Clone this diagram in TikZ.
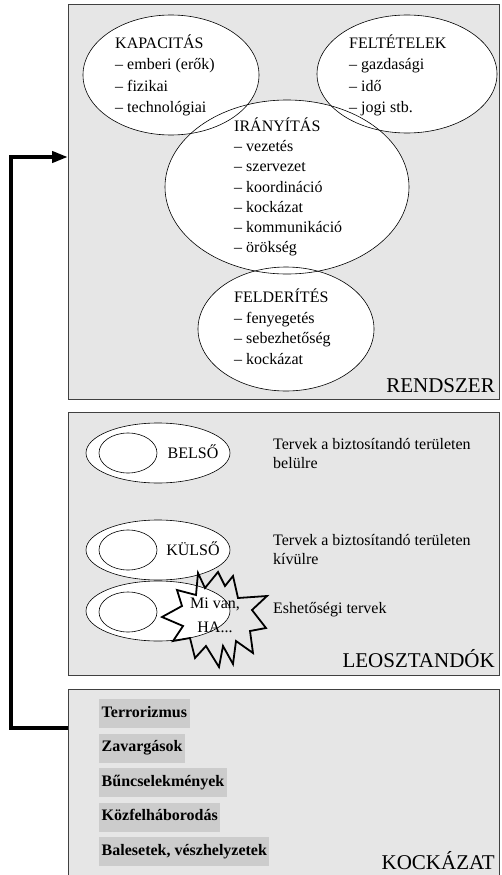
\documentclass[tikz,border=0pt]{standalone}
\usepackage{fontspec}
\setmainfont{Liberation Serif}
\usetikzlibrary{arrows.meta}
\definecolor{panelgray}{HTML}{E6E6E6}
\definecolor{boxgray}{HTML}{CCCCCC}
\definecolor{edgegray}{HTML}{404040}
\begin{document}
\begin{tikzpicture}[x=1pt,y=-1pt,
  panel/.style={draw=edgegray, line width=1.2pt, fill=panelgray, rectangle, anchor=north west, inner sep=0pt},
  ring/.style={line width=0.6pt, draw=black},
  txt/.style={font=\fontsize{16}{19}\selectfont, anchor=base west, inner sep=0pt},
  ctxt/.style={font=\fontsize{16}{19}\selectfont, anchor=base, inner sep=0pt},
  big/.style={font=\fontsize{21}{25}\selectfont, anchor=base east, inner sep=0pt},
  risk/.style={font=\bfseries\fontsize{16}{19}\selectfont, fill=boxgray, anchor=west, inner xsep=2.5pt, inner ysep=0pt, minimum height=29pt, text height=11pt, text depth=4pt},
]
\useasboundingbox (0,0) rectangle (501,875);

% panels
\node[panel, minimum width=431pt, minimum height=395pt] (rendszer) at (68,4) {};
\node[panel, minimum width=431pt, minimum height=263pt] (leoszt) at (68,412) {};
\node[panel, minimum width=431pt, minimum height=200pt] (kockazat) at (68,689) {};

% panel 1 ellipses
\coordinate (kapC) at (171,75);
\coordinate (felC) at (407,74);
\coordinate (iraC) at (287,187);
\coordinate (fdrC) at (286,329);
\fill[white] (kapC) ellipse [x radius=88, y radius=60];
\fill[white] (felC) ellipse [x radius=90, y radius=59];
\fill[white] (iraC) ellipse [x radius=122, y radius=87];
\fill[white] (fdrC) ellipse [x radius=88, y radius=62];
\draw[ring] (kapC) ellipse [x radius=88, y radius=60];
\draw[ring] (felC) ellipse [x radius=90, y radius=59];
\draw[ring] (iraC) ellipse [x radius=122, y radius=87];
\draw[ring] (fdrC) ellipse [x radius=88, y radius=62];

\foreach \t [count=\i from 0] in {KAPACITÁS, – emberi (erők), – fizikai, – technológiai}
  \node[txt] (kap\i) at (115, 48.5+21.3*\i) {\t};
\foreach \t [count=\i from 0] in {FELTÉTELEK, – gazdasági, – idő, – jogi stb.}
  \node[txt] (fel\i) at (349, 48.5+21.3*\i) {\t};
\foreach \t [count=\i from 0] in {IRÁNYÍTÁS, – vezetés, – szervezet, – koordináció, – kockázat, – kommunikáció, – örökség}
  \node[txt] (ira\i) at (234, 131.5+20.2*\i) {\t};
\foreach \t [count=\i from 0] in {FELDERÍTÉS, – fenyegetés, – sebezhetőség, – kockázat}
  \node[txt] (fdr\i) at (234, 302.5+20.7*\i) {\t};

\node[big] (lblR) at (495,392) {RENDSZER};

% panel 2
\foreach \y/\n in {453/a, 550/b, 611/c} {
  \coordinate (out\n) at (158,\y);
  \filldraw[ring, fill=white] (out\n) ellipse [x radius=72, y radius=30];
}
\foreach \y/\n in {453/a, 550/b, 612/c} {
  \coordinate (inn\n) at (128,\y);
  \draw[ring] (inn\n) ellipse [x radius=29, y radius=20];
}
\node[ctxt] (belso) at (193,458.5) {BELSŐ};
\node[ctxt] (kulso) at (193,555.5) {KÜLSŐ};
\node[txt] (tb1) at (273,449) {Tervek a biztosítandó területen};
\node[txt] (tb2) at (273,468) {belülre};
\node[txt] (tk1) at (273,545) {Tervek a biztosítandó területen};
\node[txt] (tk2) at (273,564) {kívülre};
\node[txt] (esh) at (273,613) {Eshetőségi tervek};

\draw[line width=1.8pt, line join=miter]
  (198,573) -- (205,588) -- (218,572) -- (225,586) -- (233,576) -- (238,598)
  -- (267,596) -- (252,610) -- (266,628) -- (250,631) -- (253,653) -- (236,641)
  -- (233,664) -- (223,646) -- (219,667) -- (206,646) -- (195,658) -- (190,638)
  -- (173,641) -- (183,626) -- (162,617) -- (182,606) -- (177,590) -- (196,595) -- cycle;
\node[ctxt] (mivan) at (215,608) {Mi van,};
\node[ctxt] (ha) at (215,632) {HA...};

\node[big] (lblL) at (495,667) {LEOSZTANDÓK};

% panel 3
\node[risk] (r1) at (99,713.5) {Terrorizmus};
\node[risk] (r2) at (99,748) {Zavargások};
\node[risk] (r3) at (99,782.5) {Bűncselekmények};
\node[risk] (r4) at (99,817) {Közfelháborodás};
\node[risk] (r5) at (99,851.5) {Balesetek, vészhelyzetek};
\node[big] (lblK) at (495,869) {KOCKÁZAT};

% feedback arrow
\coordinate (src) at (68,728);
\coordinate (c1) at (11,728);
\coordinate (c2) at (11,157);
\coordinate (dst) at (68,157);
\draw[line width=4pt, line join=miter, -{Triangle[length=16pt,width=11pt]}] (src) -- (c1) -- (c2) -- (dst);
\end{tikzpicture}
\end{document}
